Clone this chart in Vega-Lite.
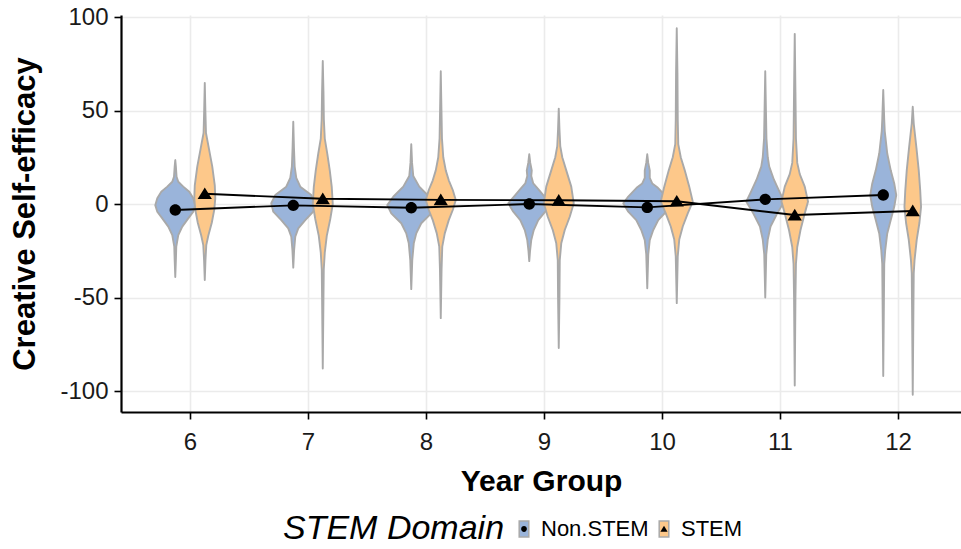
{
  "$schema": "https://vega.github.io/schema/vega-lite/v6.json",
  "width": 840,
  "height": 397,
  "autosize": {"type": "none"},
  "padding": {"left": 121, "top": 15, "right": 0, "bottom": 137},
  "config": {
    "font": "Liberation Sans",
    "view": {"stroke": null},
    "axis": {
      "labelFont": "Liberation Sans", "labelFontSize": 24, "labelColor": "#1a1a1a",
      "titleFont": "Liberation Sans", "titleFontSize": 30, "titleFontWeight": "bold", "titleColor": "black",
      "domainColor": "black", "domainWidth": 2.2, "tickColor": "black", "tickWidth": 1.6, "tickSize": 7,
      "gridColor": "#ebebeb", "gridWidth": 1.6
    },
    "legend": {"labelFont": "Liberation Sans", "titleFont": "Liberation Sans", "labelColor": "black", "titleColor": "black", "titleLimit": 600, "labelLimit": 300}
  },
  "datasets": {
    "violins": [
      {"year": 6, "group": "Non.STEM", "v": 23.5, "density": 0},
      {"year": 6, "group": "Non.STEM", "v": 20, "density": 0.6},
      {"year": 6, "group": "Non.STEM", "v": 14.6, "density": 1.3},
      {"year": 6, "group": "Non.STEM", "v": 11.9, "density": 3},
      {"year": 6, "group": "Non.STEM", "v": 9.3, "density": 8},
      {"year": 6, "group": "Non.STEM", "v": 6.6, "density": 14},
      {"year": 6, "group": "Non.STEM", "v": 3.1, "density": 18},
      {"year": 6, "group": "Non.STEM", "v": -0.6, "density": 20},
      {"year": 6, "group": "Non.STEM", "v": -4.1, "density": 18},
      {"year": 6, "group": "Non.STEM", "v": -7.7, "density": 13},
      {"year": 6, "group": "Non.STEM", "v": -12.1, "density": 7},
      {"year": 6, "group": "Non.STEM", "v": -16.6, "density": 3},
      {"year": 6, "group": "Non.STEM", "v": -22.8, "density": 1},
      {"year": 6, "group": "Non.STEM", "v": -30, "density": 0.6},
      {"year": 6, "group": "Non.STEM", "v": -39, "density": 0},

      {"year": 7, "group": "Non.STEM", "v": 44, "density": 0},
      {"year": 7, "group": "Non.STEM", "v": 30, "density": 0.7},
      {"year": 7, "group": "Non.STEM", "v": 20, "density": 1.4},
      {"year": 7, "group": "Non.STEM", "v": 14, "density": 3},
      {"year": 7, "group": "Non.STEM", "v": 9.3, "density": 7},
      {"year": 7, "group": "Non.STEM", "v": 4.8, "density": 18},
      {"year": 7, "group": "Non.STEM", "v": 0.4, "density": 22},
      {"year": 7, "group": "Non.STEM", "v": -4.1, "density": 20},
      {"year": 7, "group": "Non.STEM", "v": -8.6, "density": 12},
      {"year": 7, "group": "Non.STEM", "v": -13, "density": 5},
      {"year": 7, "group": "Non.STEM", "v": -17.5, "density": 2},
      {"year": 7, "group": "Non.STEM", "v": -25, "density": 0.8},
      {"year": 7, "group": "Non.STEM", "v": -34, "density": 0},

      {"year": 8, "group": "Non.STEM", "v": 32, "density": 0},
      {"year": 8, "group": "Non.STEM", "v": 22, "density": 0.8},
      {"year": 8, "group": "Non.STEM", "v": 15, "density": 2},
      {"year": 8, "group": "Non.STEM", "v": 9.3, "density": 8},
      {"year": 8, "group": "Non.STEM", "v": 3.9, "density": 18},
      {"year": 8, "group": "Non.STEM", "v": -0.6, "density": 24},
      {"year": 8, "group": "Non.STEM", "v": -5, "density": 20},
      {"year": 8, "group": "Non.STEM", "v": -10.3, "density": 10},
      {"year": 8, "group": "Non.STEM", "v": -15.7, "density": 5},
      {"year": 8, "group": "Non.STEM", "v": -21, "density": 2.5},
      {"year": 8, "group": "Non.STEM", "v": -30, "density": 1},
      {"year": 8, "group": "Non.STEM", "v": -45.5, "density": 0},

      {"year": 9, "group": "Non.STEM", "v": 26.6, "density": 0},
      {"year": 9, "group": "Non.STEM", "v": 22, "density": 1},
      {"year": 9, "group": "Non.STEM", "v": 18, "density": 2.5},
      {"year": 9, "group": "Non.STEM", "v": 15, "density": 2},
      {"year": 9, "group": "Non.STEM", "v": 11, "density": 4},
      {"year": 9, "group": "Non.STEM", "v": 8, "density": 9},
      {"year": 9, "group": "Non.STEM", "v": 4.8, "density": 14},
      {"year": 9, "group": "Non.STEM", "v": 0.4, "density": 21},
      {"year": 9, "group": "Non.STEM", "v": -4.1, "density": 16},
      {"year": 9, "group": "Non.STEM", "v": -8.6, "density": 9},
      {"year": 9, "group": "Non.STEM", "v": -13.9, "density": 4.5},
      {"year": 9, "group": "Non.STEM", "v": -19.3, "density": 2},
      {"year": 9, "group": "Non.STEM", "v": -25, "density": 0.8},
      {"year": 9, "group": "Non.STEM", "v": -30.5, "density": 0},

      {"year": 10, "group": "Non.STEM", "v": 26.6, "density": 0},
      {"year": 10, "group": "Non.STEM", "v": 22, "density": 1},
      {"year": 10, "group": "Non.STEM", "v": 18, "density": 2.5},
      {"year": 10, "group": "Non.STEM", "v": 14, "density": 2.5},
      {"year": 10, "group": "Non.STEM", "v": 11, "density": 5},
      {"year": 10, "group": "Non.STEM", "v": 9, "density": 10},
      {"year": 10, "group": "Non.STEM", "v": 4, "density": 19},
      {"year": 10, "group": "Non.STEM", "v": 0.4, "density": 24},
      {"year": 10, "group": "Non.STEM", "v": -4.1, "density": 19},
      {"year": 10, "group": "Non.STEM", "v": -8.6, "density": 11},
      {"year": 10, "group": "Non.STEM", "v": -13.9, "density": 6},
      {"year": 10, "group": "Non.STEM", "v": -19.3, "density": 2.5},
      {"year": 10, "group": "Non.STEM", "v": -27, "density": 1},
      {"year": 10, "group": "Non.STEM", "v": -45, "density": 0},

      {"year": 11, "group": "Non.STEM", "v": 71, "density": 0},
      {"year": 11, "group": "Non.STEM", "v": 50, "density": 0.7},
      {"year": 11, "group": "Non.STEM", "v": 35, "density": 1.2},
      {"year": 11, "group": "Non.STEM", "v": 25, "density": 2.5},
      {"year": 11, "group": "Non.STEM", "v": 20, "density": 4},
      {"year": 11, "group": "Non.STEM", "v": 13, "density": 8.7},
      {"year": 11, "group": "Non.STEM", "v": 5.7, "density": 15},
      {"year": 11, "group": "Non.STEM", "v": 1.3, "density": 19},
      {"year": 11, "group": "Non.STEM", "v": -5, "density": 12},
      {"year": 11, "group": "Non.STEM", "v": -12, "density": 5.3},
      {"year": 11, "group": "Non.STEM", "v": -19, "density": 2.5},
      {"year": 11, "group": "Non.STEM", "v": -27, "density": 1},
      {"year": 11, "group": "Non.STEM", "v": -50, "density": 0},

      {"year": 12, "group": "Non.STEM", "v": 61, "density": 0},
      {"year": 12, "group": "Non.STEM", "v": 45, "density": 1},
      {"year": 12, "group": "Non.STEM", "v": 39, "density": 1.5},
      {"year": 12, "group": "Non.STEM", "v": 27, "density": 4},
      {"year": 12, "group": "Non.STEM", "v": 18, "density": 7.5},
      {"year": 12, "group": "Non.STEM", "v": 11, "density": 11},
      {"year": 12, "group": "Non.STEM", "v": 4.8, "density": 13},
      {"year": 12, "group": "Non.STEM", "v": -1.5, "density": 11},
      {"year": 12, "group": "Non.STEM", "v": -8.6, "density": 7.5},
      {"year": 12, "group": "Non.STEM", "v": -15.7, "density": 4},
      {"year": 12, "group": "Non.STEM", "v": -24.6, "density": 2},
      {"year": 12, "group": "Non.STEM", "v": -32, "density": 1},
      {"year": 12, "group": "Non.STEM", "v": -50, "density": 0.7},
      {"year": 12, "group": "Non.STEM", "v": -92, "density": 0},

      {"year": 6, "group": "STEM", "v": 64.8, "density": 0},
      {"year": 6, "group": "STEM", "v": 50, "density": 0.6},
      {"year": 6, "group": "STEM", "v": 38, "density": 1.2},
      {"year": 6, "group": "STEM", "v": 30, "density": 4},
      {"year": 6, "group": "STEM", "v": 20, "density": 7.5},
      {"year": 6, "group": "STEM", "v": 10, "density": 10},
      {"year": 6, "group": "STEM", "v": 3, "density": 10.5},
      {"year": 6, "group": "STEM", "v": -3, "density": 9.5},
      {"year": 6, "group": "STEM", "v": -10, "density": 7},
      {"year": 6, "group": "STEM", "v": -17, "density": 3.5},
      {"year": 6, "group": "STEM", "v": -22, "density": 1.5},
      {"year": 6, "group": "STEM", "v": -30, "density": 0.7},
      {"year": 6, "group": "STEM", "v": -40.6, "density": 0},

      {"year": 7, "group": "STEM", "v": 76.5, "density": 0},
      {"year": 7, "group": "STEM", "v": 60, "density": 0.7},
      {"year": 7, "group": "STEM", "v": 45, "density": 1.1},
      {"year": 7, "group": "STEM", "v": 35, "density": 2},
      {"year": 7, "group": "STEM", "v": 27, "density": 4.5},
      {"year": 7, "group": "STEM", "v": 18, "density": 7},
      {"year": 7, "group": "STEM", "v": 9, "density": 9},
      {"year": 7, "group": "STEM", "v": 0, "density": 10},
      {"year": 7, "group": "STEM", "v": -8, "density": 7.5},
      {"year": 7, "group": "STEM", "v": -17, "density": 4},
      {"year": 7, "group": "STEM", "v": -26, "density": 2},
      {"year": 7, "group": "STEM", "v": -35, "density": 1},
      {"year": 7, "group": "STEM", "v": -50, "density": 0.7},
      {"year": 7, "group": "STEM", "v": -88, "density": 0},

      {"year": 8, "group": "STEM", "v": 71, "density": 0},
      {"year": 8, "group": "STEM", "v": 50, "density": 0.7},
      {"year": 8, "group": "STEM", "v": 35, "density": 1.2},
      {"year": 8, "group": "STEM", "v": 25, "density": 2.5},
      {"year": 8, "group": "STEM", "v": 18, "density": 5},
      {"year": 8, "group": "STEM", "v": 12.7, "density": 8},
      {"year": 8, "group": "STEM", "v": 7.5, "density": 12},
      {"year": 8, "group": "STEM", "v": 2.2, "density": 15},
      {"year": 8, "group": "STEM", "v": -3.2, "density": 12},
      {"year": 8, "group": "STEM", "v": -8.6, "density": 8},
      {"year": 8, "group": "STEM", "v": -15.7, "density": 4},
      {"year": 8, "group": "STEM", "v": -22.8, "density": 1.5},
      {"year": 8, "group": "STEM", "v": -35, "density": 0.8},
      {"year": 8, "group": "STEM", "v": -61, "density": 0},

      {"year": 9, "group": "STEM", "v": 51, "density": 0},
      {"year": 9, "group": "STEM", "v": 40, "density": 0.7},
      {"year": 9, "group": "STEM", "v": 31, "density": 1.5},
      {"year": 9, "group": "STEM", "v": 25, "density": 3.5},
      {"year": 9, "group": "STEM", "v": 18, "density": 7.5},
      {"year": 9, "group": "STEM", "v": 9.3, "density": 12.5},
      {"year": 9, "group": "STEM", "v": 0.4, "density": 15},
      {"year": 9, "group": "STEM", "v": -6.8, "density": 11},
      {"year": 9, "group": "STEM", "v": -13.9, "density": 6},
      {"year": 9, "group": "STEM", "v": -21, "density": 2.5},
      {"year": 9, "group": "STEM", "v": -30, "density": 1},
      {"year": 9, "group": "STEM", "v": -50, "density": 0.7},
      {"year": 9, "group": "STEM", "v": -77, "density": 0},

      {"year": 10, "group": "STEM", "v": 94, "density": 0},
      {"year": 10, "group": "STEM", "v": 70, "density": 0.7},
      {"year": 10, "group": "STEM", "v": 45, "density": 1},
      {"year": 10, "group": "STEM", "v": 32, "density": 1.5},
      {"year": 10, "group": "STEM", "v": 25, "density": 4},
      {"year": 10, "group": "STEM", "v": 18, "density": 8},
      {"year": 10, "group": "STEM", "v": 9.3, "density": 12.5},
      {"year": 10, "group": "STEM", "v": 1.3, "density": 16},
      {"year": 10, "group": "STEM", "v": -5, "density": 11},
      {"year": 10, "group": "STEM", "v": -12, "density": 6},
      {"year": 10, "group": "STEM", "v": -19, "density": 2.5},
      {"year": 10, "group": "STEM", "v": -28, "density": 1},
      {"year": 10, "group": "STEM", "v": -53, "density": 0},

      {"year": 11, "group": "STEM", "v": 91, "density": 0},
      {"year": 11, "group": "STEM", "v": 60, "density": 0.7},
      {"year": 11, "group": "STEM", "v": 35, "density": 1.2},
      {"year": 11, "group": "STEM", "v": 22, "density": 2.5},
      {"year": 11, "group": "STEM", "v": 16, "density": 5},
      {"year": 11, "group": "STEM", "v": 9.3, "density": 10},
      {"year": 11, "group": "STEM", "v": 1.3, "density": 13.3},
      {"year": 11, "group": "STEM", "v": -5, "density": 10},
      {"year": 11, "group": "STEM", "v": -14, "density": 5.7},
      {"year": 11, "group": "STEM", "v": -23, "density": 2.5},
      {"year": 11, "group": "STEM", "v": -32, "density": 1.2},
      {"year": 11, "group": "STEM", "v": -50, "density": 0.7},
      {"year": 11, "group": "STEM", "v": -97, "density": 0},

      {"year": 12, "group": "STEM", "v": 52, "density": 0},
      {"year": 12, "group": "STEM", "v": 43, "density": 1},
      {"year": 12, "group": "STEM", "v": 30, "density": 3.7},
      {"year": 12, "group": "STEM", "v": 18, "density": 6},
      {"year": 12, "group": "STEM", "v": 7, "density": 7.5},
      {"year": 12, "group": "STEM", "v": -1.5, "density": 8.3},
      {"year": 12, "group": "STEM", "v": -10, "density": 6.7},
      {"year": 12, "group": "STEM", "v": -19, "density": 4},
      {"year": 12, "group": "STEM", "v": -30, "density": 1.8},
      {"year": 12, "group": "STEM", "v": -37, "density": 1},
      {"year": 12, "group": "STEM", "v": -55, "density": 0.7},
      {"year": 12, "group": "STEM", "v": -102, "density": 0}
    ],
    "means": [
      {"year": 6, "domain": "Non.STEM", "mean": -3.2},
      {"year": 7, "domain": "Non.STEM", "mean": -0.7},
      {"year": 8, "domain": "Non.STEM", "mean": -2},
      {"year": 9, "domain": "Non.STEM", "mean": 0},
      {"year": 10, "domain": "Non.STEM", "mean": -1.8},
      {"year": 11, "domain": "Non.STEM", "mean": 2.5},
      {"year": 12, "domain": "Non.STEM", "mean": 4.8},
      {"year": 6, "domain": "STEM", "mean": 5.5},
      {"year": 7, "domain": "STEM", "mean": 2.8},
      {"year": 8, "domain": "STEM", "mean": 2.2},
      {"year": 9, "domain": "STEM", "mean": 2},
      {"year": 10, "domain": "STEM", "mean": 1.5},
      {"year": 11, "domain": "STEM", "mean": -5.9},
      {"year": 12, "domain": "STEM", "mean": -3.7}
    ]
  },
  "layer": [
    {
      "data": {"name": "violins"},
      "transform": [
        {"calculate": "datum.year + (datum.group === 'STEM' ? 0.125 : -0.125)", "as": "center"},
        {"calculate": "datum.center - datum.density / 118", "as": "xlo"},
        {"calculate": "datum.center + datum.density / 118", "as": "xhi"}
      ],
      "mark": {"type": "area", "orient": "horizontal", "stroke": "#a9a9a9", "strokeWidth": 1.9, "opacity": 1, "strokeJoin": "round"},
      "encoding": {
        "y": {"field": "v", "type": "quantitative", "scale": {"domain": [-111.2, 101.07], "nice": false, "zero": false},
          "axis": {"title": "Creative Self-efficacy", "titleFontSize": 31, "values": [-100, -50, 0, 50, 100], "labelExpr": "'' + datum.value", "labelPadding": 6, "titlePadding": 18}},
        "x": {"field": "xlo", "type": "quantitative", "scale": {"domain": [5.415, 12.534], "nice": false, "zero": false},
          "axis": {"title": "Year Group", "values": [6, 7, 8, 9, 10, 11, 12], "format": "d", "labelPadding": 11, "titlePadding": 12, "labelFlush": false}},
        "x2": {"field": "xhi"},
        "color": {"field": "group", "type": "nominal",
          "scale": {"domain": ["Non.STEM", "STEM"], "range": ["#9ab4da", "#fdc88a"]},
          "legend": {"title": "STEM Domain", "orient": "none", "legendX": 162, "legendY": 503, "direction": "horizontal",
            "titleOrient": "left", "titleFontSize": 34, "titleFontStyle": "italic", "titleFontWeight": "normal", "titlePadding": 8,
            "symbolType": "M-0.6,-1L0.6,-1L0.6,1L-0.6,1Z", "symbolSize": 256, "symbolStrokeWidth": 1.5, "symbolStrokeColor": "#a9a9a9", "symbolOpacity": 1,
            "labelFontSize": 22, "labelOffset": 6, "columnPadding": 4}},
        "detail": {"field": "year"}
      }
    },
    {
      "data": {"name": "means"},
      "transform": [
        {"calculate": "datum.year + (datum.domain === 'STEM' ? 0.125 : -0.125)", "as": "xc"}
      ],
      "mark": {"type": "line", "color": "black", "strokeWidth": 1.9},
      "encoding": {
        "x": {"field": "xc", "type": "quantitative", "scale": {"domain": [5.415, 12.534], "nice": false, "zero": false},
          "axis": {"title": "Year Group", "values": [6, 7, 8, 9, 10, 11, 12], "format": "d", "labelPadding": 11, "titlePadding": 12, "labelFlush": false}},
        "y": {"field": "mean", "type": "quantitative", "scale": {"domain": [-111.2, 101.07], "nice": false, "zero": false},
          "axis": {"title": "Creative Self-efficacy", "titleFontSize": 31, "values": [-100, -50, 0, 50, 100], "labelExpr": "'' + datum.value", "labelPadding": 6, "titlePadding": 18}},
        "detail": {"field": "domain"}
      }
    },
    {
      "data": {"name": "means"},
      "transform": [
        {"calculate": "datum.year + (datum.domain === 'STEM' ? 0.125 : -0.125)", "as": "xc"}
      ],
      "mark": {"type": "point", "filled": true, "color": "black", "opacity": 1, "size": 1000, "strokeWidth": 0},
      "encoding": {
        "x": {"field": "xc", "type": "quantitative", "scale": {"domain": [5.415, 12.534], "nice": false, "zero": false},
          "axis": {"title": "Year Group", "values": [6, 7, 8, 9, 10, 11, 12], "format": "d", "labelPadding": 11, "titlePadding": 12, "labelFlush": false}},
        "y": {"field": "mean", "type": "quantitative", "scale": {"domain": [-111.2, 101.07], "nice": false, "zero": false},
          "axis": {"title": "Creative Self-efficacy", "titleFontSize": 31, "values": [-100, -50, 0, 50, 100], "labelExpr": "'' + datum.value", "labelPadding": 6, "titlePadding": 18}},
        "shape": {"field": "domain", "type": "nominal",
          "scale": {"range": ["M-0.36,0A0.36,0.36 0 1,0 0.36,0A0.36,0.36 0 1,0 -0.36,0Z", "M0,-0.4L0.45,0.34L-0.45,0.34Z"]},
          "legend": {"title": "STEM Domain", "orient": "none", "legendX": 162, "legendY": 503, "direction": "horizontal",
            "titleOrient": "left", "titleFontSize": 34, "titleFontStyle": "italic", "titleFontWeight": "normal", "titlePadding": 8, "titleOpacity": 0,
            "symbolSize": 256, "symbolStrokeWidth": 1.5, "symbolStrokeColor": "transparent", "symbolFillColor": "black", "symbolOpacity": 1,
            "labelFontSize": 22, "labelOffset": 6, "columnPadding": 4, "labelOpacity": 0}}
      }
    }
  ]
}
